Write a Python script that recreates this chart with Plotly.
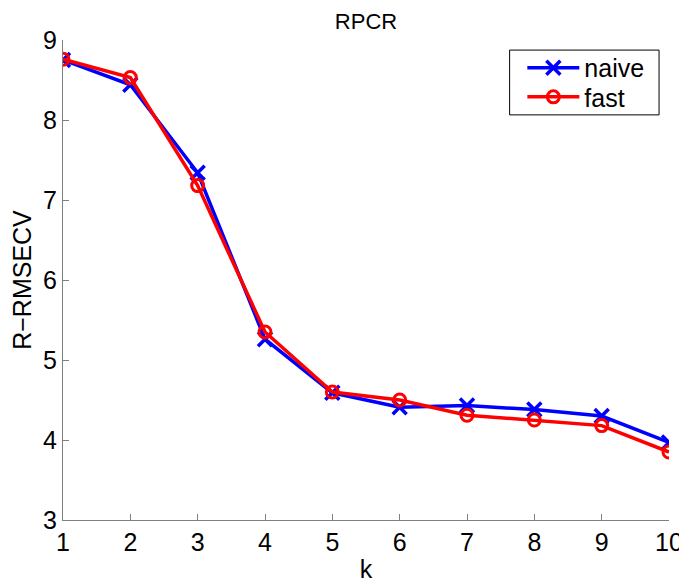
import plotly.graph_objects as go

k = [1, 2, 3, 4, 5, 6, 7, 8, 9, 10]
naive = [8.75, 8.44, 7.34, 5.26, 4.59, 4.41, 4.43, 4.38, 4.30, 3.97]
fast = [8.76, 8.53, 7.18, 5.35, 4.60, 4.50, 4.31, 4.25, 4.18, 3.85]

font = "Liberation Sans, Arial, Helvetica, sans-serif"

fig = go.Figure()
fig.add_trace(go.Scatter(
    x=k, y=naive, name="naive", mode="lines+markers", legend="legend",
    line=dict(color="rgb(0,0,255)", width=3.5),
    marker=dict(symbol="x-thin-open", size=14, color="rgb(0,0,255)",
                line=dict(color="rgb(0,0,255)", width=3.5)),
))
fig.add_trace(go.Scatter(
    x=k, y=fast, name="fast", mode="lines+markers", legend="legend2",
    line=dict(color="rgb(255,0,0)", width=3.5),
    marker=dict(symbol="circle-open", size=12, color="rgb(255,0,0)",
                line=dict(color="rgb(255,0,0)", width=3)),
))

# legend frame (MATLAB-style box)
fig.add_shape(type="rect", xref="paper", yref="paper",
              x0=0.737, x1=0.9836, y0=0.844, y1=0.979,
              line=dict(color="black", width=1), fillcolor="rgba(0,0,0,0)",
              layer="above")

leg_common = dict(xanchor="left", yanchor="middle", borderwidth=0,
                  bgcolor="rgba(0,0,0,0)", font=dict(size=25, family=font),
                  itemwidth=52)

fig.update_layout(
    width=687, height=583,
    margin=dict(l=55, r=24, t=32, b=71),
    paper_bgcolor="white", plot_bgcolor="white",
    font=dict(family=font, size=25, color="black"),
    title=dict(text="RPCR", x=0.5, xref="paper", xanchor="center",
               y=0.99, yanchor="top",
               font=dict(size=22, family=font)),
    showlegend=True,
    legend=dict(x=0.758, y=0.9417, **leg_common),
    legend2=dict(x=0.758, y=0.881, **leg_common),
    xaxis=dict(range=[1, 10], tickvals=k, ticks="inside", ticklen=6,
               tickcolor="#808080", showline=True, linecolor="#808080",
               linewidth=1, showgrid=False, zeroline=False, mirror=False,
               title=dict(text="k", standoff=5, font=dict(size=25)),
               tickfont=dict(size=25)),
    yaxis=dict(range=[3, 9], tickvals=[3, 4, 5, 6, 7, 8, 9], ticks="inside",
               ticklen=6, tickcolor="#808080", showline=True,
               linecolor="#808080", linewidth=1, showgrid=False,
               zeroline=False, mirror=False,
               title=dict(text="R\u2212RMSECV", standoff=4, font=dict(size=25)),
               tickfont=dict(size=25)),
)

fig.write_html("out.html")
